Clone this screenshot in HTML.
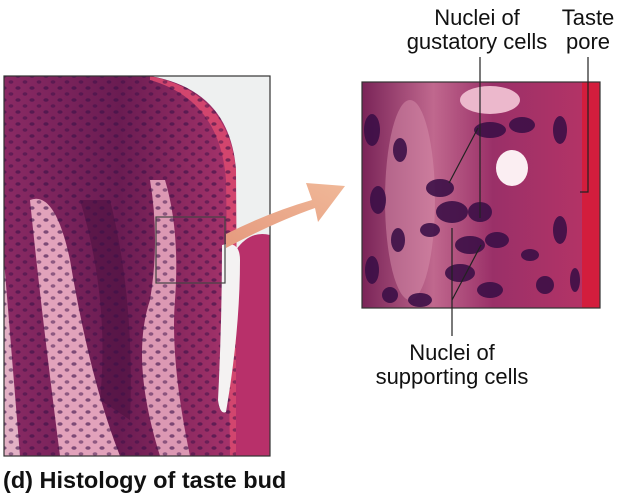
<!DOCTYPE html>
<html><head><meta charset="utf-8"><style>
body{margin:0;background:#fff;width:619px;height:494px;overflow:hidden}
svg{display:block}
text{font-family:"Liberation Sans",sans-serif;fill:#111}
</style></head><body>
<svg width="619" height="494" viewBox="0 0 619 494">
<defs>
<linearGradient id="lg" x1="0" y1="0" x2="1" y2="0">
<stop offset="0" stop-color="#8a2a64"/><stop offset="0.5" stop-color="#6a1c52"/><stop offset="1" stop-color="#a8346c"/>
</linearGradient>
<linearGradient id="rg" x1="0" y1="0" x2="1" y2="0">
<stop offset="0" stop-color="#7a2458"/><stop offset="0.3" stop-color="#c0688e"/><stop offset="0.55" stop-color="#9a3068"/><stop offset="1" stop-color="#b83466"/>
</linearGradient>
<linearGradient id="ar" x1="0" y1="1" x2="1" y2="0">
<stop offset="0" stop-color="#e59a7e"/><stop offset="1" stop-color="#f0b898"/>
</linearGradient>
<pattern id="nuc" width="14" height="12" patternUnits="userSpaceOnUse">
<ellipse cx="4" cy="4" rx="2.6" ry="1.8" fill="#3a1048" opacity="0.6"/>
<ellipse cx="11" cy="10" rx="2.4" ry="1.7" fill="#3a1048" opacity="0.5"/>
</pattern>
</defs>
<g>
<rect x="4" y="76" width="266" height="380" fill="#eef0f0"/>
<path d="M4 76 L150 76 Q230 90 236 170 L236 456 L4 456 Z" fill="url(#lg)"/>
<path d="M150 76 Q228 92 236 170 L238 456 L230 456 L226 180 Q220 100 150 80 Z" fill="#d2456e"/>
<path d="M236 250 Q250 230 270 235 L270 456 L236 456 Z" fill="#b8306a"/>
<path d="M30 200 Q40 300 60 456 L120 456 Q90 380 70 260 Q55 190 30 200 Z" fill="#e2a2bb"/>
<path d="M150 180 Q160 240 150 300 Q130 360 160 456 L190 456 Q170 360 175 300 Q180 230 165 180 Z" fill="#dc98b3"/>
<path d="M4 260 L20 456 L4 456 Z" fill="#e2b0c4"/>
<path d="M80 200 Q110 300 100 400 L130 420 Q135 300 110 200 Z" fill="#4a1040" opacity="0.55"/>
<path d="M4 76 L150 76 Q230 90 236 170 L236 456 L4 456 Z" fill="url(#nuc)"/>
<path d="M222 245 Q240 240 240 260 Q240 330 226 412 Q220 415 218 400 Q222 320 222 245 Z" fill="#f4f2f2"/>
<rect x="4" y="76" width="266" height="380" fill="none" stroke="#333" stroke-width="1.2"/>
<rect x="156" y="217" width="69" height="66" fill="none" stroke="#444" stroke-width="1.2"/>
</g>
<path d="M226 234 Q270 212 312 200 L306 183 L345 186 L318 222 L315 208 Q275 222 226 248 Z" fill="url(#ar)"/>
<g>
<rect x="362" y="82" width="238" height="226" fill="url(#rg)"/>
<ellipse cx="410" cy="200" rx="25" ry="100" fill="#d890ac" opacity="0.5"/>
<ellipse cx="512" cy="168" rx="16" ry="18" fill="#fbeef2"/>
<ellipse cx="490" cy="100" rx="30" ry="14" fill="#ecb8cc"/>
<rect x="582" y="82" width="18" height="226" fill="#d81a36" opacity="0.85"/>
<g fill="#3a0e46" opacity="0.88">
<ellipse cx="372" cy="130" rx="8" ry="16"/><ellipse cx="378" cy="200" rx="8" ry="14"/><ellipse cx="372" cy="270" rx="7" ry="14"/><ellipse cx="400" cy="150" rx="7" ry="12"/><ellipse cx="398" cy="240" rx="7" ry="12"/><ellipse cx="390" cy="295" rx="8" ry="8"/>
<ellipse cx="440" cy="188" rx="14" ry="9"/><ellipse cx="452" cy="212" rx="16" ry="11"/><ellipse cx="480" cy="212" rx="12" ry="10"/><ellipse cx="470" cy="245" rx="15" ry="9"/><ellipse cx="497" cy="240" rx="12" ry="8"/><ellipse cx="460" cy="273" rx="15" ry="9"/><ellipse cx="490" cy="290" rx="13" ry="8"/><ellipse cx="430" cy="230" rx="10" ry="7"/>
<ellipse cx="490" cy="130" rx="16" ry="8"/><ellipse cx="522" cy="125" rx="13" ry="8"/><ellipse cx="560" cy="130" rx="7" ry="14"/><ellipse cx="560" cy="230" rx="7" ry="14"/><ellipse cx="545" cy="285" rx="9" ry="9"/><ellipse cx="420" cy="300" rx="12" ry="7"/><ellipse cx="530" cy="255" rx="9" ry="6"/><ellipse cx="575" cy="280" rx="5" ry="12"/>
</g>
<rect x="362" y="82" width="238" height="226" fill="none" stroke="#333" stroke-width="1.2"/>
</g>
<g stroke="#222" stroke-width="1.2" fill="none">
<line x1="480" y1="57" x2="480" y2="218"/>
<line x1="478" y1="128" x2="449" y2="183"/>
<polyline points="588,57 588,192 580,192"/>
<line x1="452" y1="228" x2="452" y2="336"/>
<line x1="452" y1="300" x2="481" y2="245"/>
</g>
<g font-size="22" text-anchor="middle">
<text x="477" y="25">Nuclei of</text>
<text x="477" y="49">gustatory cells</text>
<text x="588" y="25">Taste</text>
<text x="588" y="49">pore</text>
<text x="452" y="360">Nuclei of</text>
<text x="452" y="384">supporting cells</text>
</g>
<text x="3" y="488" font-size="23.5" font-weight="bold">(d) Histology of taste bud</text>
</svg>
</body></html>
